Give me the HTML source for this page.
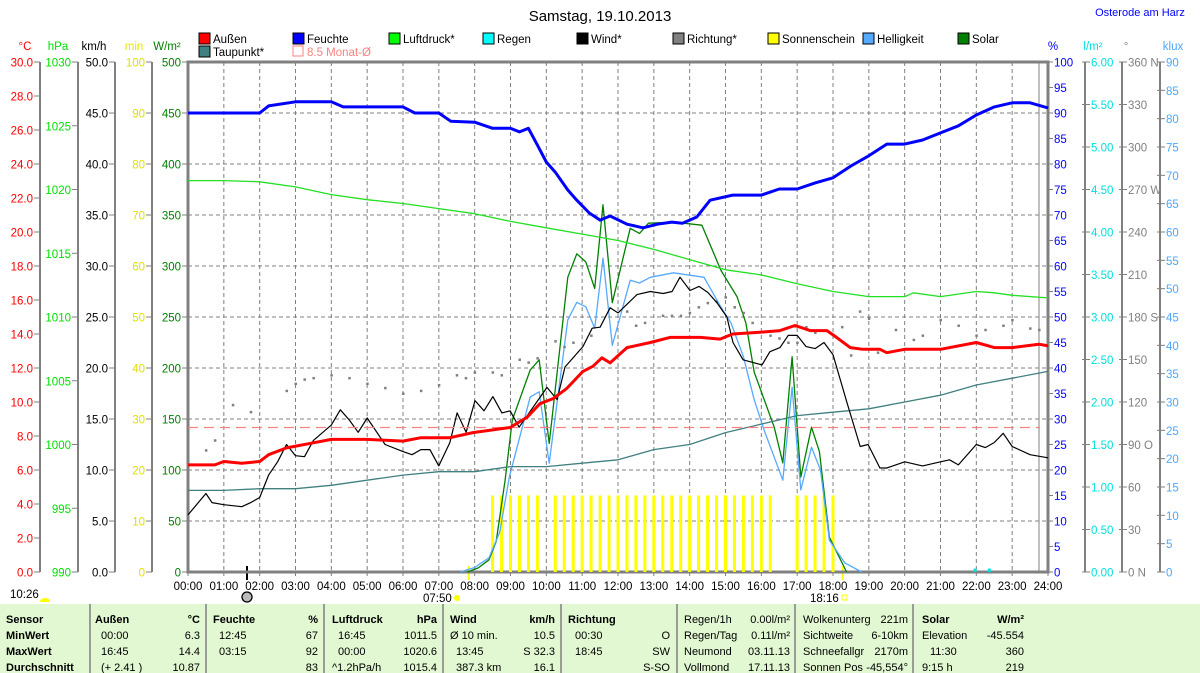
<!DOCTYPE html>
<html><head><meta charset="utf-8"><style>
html,body{margin:0;padding:0;background:#fff;}
svg{display:block;font-family:"Liberation Sans",sans-serif;}
</style></head><body>
<svg id="chart" width="1200" height="673" viewBox="0 0 1200 673" xmlns="http://www.w3.org/2000/svg">
<text x="600" y="21" font-size="15" text-anchor="middle" fill="#000">Samstag, 19.10.2013</text>
<text x="1140" y="16" font-size="11" text-anchor="middle" fill="#0000ff">Osterode am Harz</text>
<g id="axes"></g>
<g id="grid"></g>
<g id="series"></g>
<g id="legend"></g>
<g id="table"></g>
</svg>
<script>
// ---- data ----
const hourLabels=["00:00","01:00","02:00","03:00","04:00","05:00","06:00","07:00","08:00","09:00","10:00","11:00","12:00","13:00","14:00","15:00","16:00","17:00","18:00","19:00","20:00","21:00","22:00","23:00","24:00"];
const tempT=[0,0.75,1,1.5,2,2.25,2.75,3.5,4,5,6,6.5,7,7.31,7.95,8.99,9.46,9.82,10.19,10.57,11.02,11.3,11.55,11.78,12.25,12.9,13.45,14.3,14.85,15.2,15.96,16.52,16.94,17.36,17.83,18.1,18.48,18.84,19.31,19.5,20,21,22,22.5,23,23.75,24];
const tempV=[6.3,6.3,6.5,6.4,6.5,6.9,7.3,7.6,7.8,7.8,7.7,7.9,7.9,7.9,8.2,8.5,9.1,9.9,10.2,10.8,11.8,12.1,12.6,12.3,13.2,13.5,13.8,13.8,13.7,14.0,14.1,14.2,14.5,14.2,14.2,13.8,13.2,13.1,13.1,12.9,13.1,13.1,13.5,13.2,13.2,13.4,13.3];
const dewT=[0,1,2,3,4,5,6,7,8,9,10,11,12,13,14,15,16,17,18,19,20,21,22,23,24];
const dewV=[4.8,4.8,4.9,4.9,5.1,5.4,5.7,5.9,5.9,6.2,6.2,6.4,6.6,7.2,7.5,8.2,8.7,9.2,9.4,9.6,10.0,10.4,11.0,11.4,11.8];
const humT=[0,2,2.25,3,4,4.33,6,6.33,7,7.33,8,8.5,9,9.25,9.5,9.75,10,10.25,10.6,10.85,11.2,11.5,11.78,12.25,12.7,13.1,13.5,13.8,14.2,14.57,15.2,15.7,16,16.5,17,17.5,18,18.5,19,19.5,20,20.5,21,21.5,22,22.5,23,23.5,24];
const humV=[90,90,91.4,92.2,92.2,91.2,91.2,90,90,88.4,88.2,87,87,86.3,87,83.7,80.4,78.4,74.9,72.9,70.4,69,69.8,68.2,67.5,68.2,68.6,68.4,69.6,72.9,73.9,73.9,73.9,75.1,75.1,76.3,77.3,79.6,81.6,83.9,83.9,84.7,86.1,87.5,89.6,91.2,92,92,91];
const presT=[0,1,2,3,4,5,6,7,8,9,10,11,12,13,14,15,16,17,18,19,20,20.25,21,22,22.5,23,24];
const presV=[1020.7,1020.7,1020.6,1020.2,1019.6,1019.2,1018.9,1018.5,1018.1,1017.5,1017.0,1016.5,1016.0,1015.3,1014.5,1013.7,1013.3,1012.6,1012.0,1011.6,1011.6,1011.9,1011.6,1012.0,1011.9,1011.7,1011.5];
const windT=[0,0.5,0.67,1,1.5,1.75,2,2.25,2.5,2.75,3,3.25,3.5,4,4.25,4.5,4.75,5,5.5,6,6.25,6.5,6.75,7,7.31,7.51,7.76,8.01,8.26,8.51,8.76,8.99,9.24,10.02,10.3,10.52,11.02,11.28,11.5,11.78,12.0,12.53,12.9,13.26,13.51,13.73,14.01,14.26,14.51,14.76,15.04,15.21,15.49,16.02,16.24,16.52,16.75,17.0,17.25,17.5,17.75,18.0,18.39,18.76,18.98,19.31,19.5,20,20.5,21,21.25,21.5,22,22.25,22.5,22.75,23,23.5,24];
const windV=[5.6,7.7,6.8,6.6,6.4,6.8,7.3,9.5,10.8,12.5,11.4,11.3,12.9,14.4,15.9,14.9,13.7,15.1,12.5,11.8,11.5,12.0,12.0,10.4,12.7,15.6,13.7,16.8,15.8,17.2,15.6,15.8,14.2,18.1,16.9,20.1,22.1,23.9,24.0,25.9,25.4,27.2,27.5,27.3,27.5,28.9,27.6,28.0,27.4,26.4,25.0,22.5,20.8,20.3,21.6,22.0,23.2,23.2,22.1,21.9,22.5,21.3,16.6,12.3,12.5,10.2,10.2,10.8,10.4,10.8,11.0,10.5,12.5,12.2,12.7,13.6,12.3,11.5,11.2];
const dirT=[0.5,0.75,1.25,1.75,2.75,3,3.25,3.5,4,4.5,5,5.5,6,6.5,7,7.5,7.75,8,8.5,8.75,9.25,9.5,9.75,10.25,10.5,10.75,11.25,12.25,12.5,12.75,13.25,13.5,13.75,14,14.25,14.5,14.75,15,15.25,15.5,15.75,16.25,16.5,16.75,17,17.25,17.5,18.25,18.5,18.75,19,19.25,19.75,20.25,20.5,21,21.5,22,22.25,22.75,23,23.5,23.75];
const dirV=[86,93,118,113,128,133,136,137,139,137,133,130,126,128,132,139,137,141,141,139,150,148,151,163,159,162,167,184,174,176,181,181,181,183,187,190,191,194,187,183,176,167,165,162,162,173,169,173,153,184,179,155,171,164,167,178,174,167,171,174,178,172,171];
const sunT=[8.5,8.75,9,9.25,9.5,9.75,10.25,10.5,10.75,11,11.25,11.5,11.75,12,12.25,12.5,12.75,13,13.25,13.5,13.75,14,14.25,14.5,14.75,15,15.25,15.5,15.75,16,16.25,17,17.25,17.5,17.75,18];
const sunV=[15,15,15,15,15,15,15,15,15,15,15,15,15,15,15,15,15,15,15,15,15,15,15,15,15,15,15,15,15,15,15,15,15,15,15,15];
const solarT=[7.8,8.1,8.4,8.6,8.85,9.05,9.55,9.8,10.08,10.6,10.85,11.1,11.35,11.58,11.84,12.34,12.6,12.85,13.55,14.34,14.87,15.32,15.57,15.8,16.36,16.6,16.86,17.1,17.4,17.62,17.9,18.38];
const solarV=[0,4,12,30,90,149,198,208,126,289,312,304,278,360,264,337,332,342,343,340,296,270,244,196,142,107,211,93,142,118,34,0];
const luxT=[7.6,8.0,8.4,8.7,8.97,9.55,9.8,10.08,10.6,10.85,11.1,11.35,11.58,11.84,12.34,12.6,12.9,13.55,14.4,14.87,15.15,15.5,15.8,16.08,16.6,16.86,17.1,17.4,17.65,17.9,18.33,18.8];
const luxV=[0,0.8,2.5,7,16.8,30.9,31.8,19.2,44.5,47.6,46.8,43,55.4,40,51.5,51,52,52.8,52,46.8,44,38,30.4,25,16.2,32.6,14.5,22,18,5.6,1.6,0];
const rainT=[21.95,22.35];
const rainV=[0.04,0.04];
const monthAvg=[8.5];

// ---- axis functions ----
const X0=188,X1=1048,YT=62,YB=572;
const xT=t=>X0+t*(X1-X0)/24;
const yW=v=>YB-v*(YB-YT)/500;
const yC=v=>YB-v*(YB-YT)/30;
const yP=v=>YB-(v-990)*(YB-YT)/40;
const yK=v=>YB-v*(YB-YT)/50;
const yM=v=>YB-v*(YB-YT)/100;
const yH=v=>YB-v*(YB-YT)/100;
const yL=v=>YB-v*(YB-YT)/6;
const yD=v=>YB-v*(YB-YT)/360;
const yX=v=>YB-v*(YB-YT)/90;

const NS="http://www.w3.org/2000/svg";
function mk(tag,attrs,parent,txt){const e=document.createElementNS(NS,tag);for(const k in attrs)e.setAttribute(k,attrs[k]);if(txt!==undefined)e.textContent=txt;parent.appendChild(e);return e;}
const axes=document.getElementById('axes'),grid=document.getElementById('grid'),ser=document.getElementById('series'),leg=document.getElementById('legend'),tbl=document.getElementById('table');

// grid
for(let h=1;h<24;h++){const l=mk('line',{x1:xT(h),x2:xT(h),y1:YT,y2:YB,stroke:'#808080','stroke-dasharray':'4,3','stroke-width':1},grid);

}
for(let v=50;v<500;v+=50){const l=mk('line',{x1:X0,x2:X1,y1:yW(v),y2:yW(v),stroke:'#808080','stroke-dasharray':'4,3','stroke-width':1},grid);

}
const inner=mk('line',{x1:1039,x2:1039,y1:YT,y2:YB,stroke:'#808080','stroke-width':1},grid);


const frame=mk('rect',{x:X0,y:YT,width:X1-X0,height:YB-YT,fill:'none',stroke:'#808080','stroke-width':3},grid);



// axes
function axis(name,lineX,header,headerX,color,ticks,fmt,scale,side,labelColor){
  const g=mk('g',{},axes);
  
  
  if(lineX!==X0&&lineX!==X1){mk('line',{x1:lineX,x2:lineX,y1:YT,y2:YB,stroke:'#808080','stroke-width':2},g);}
  const h=mk('text',{x:headerX,y:50,'font-size':11.5,fill:color,'text-anchor':'middle'},g,header);
  
  
  ticks.forEach(v=>{const y=scale(v);
    if(side==='left'){mk('line',{x1:lineX-6,x2:lineX,y1:y,y2:y,stroke:'#808080'},g);
      const t=mk('text',{x:lineX-7,y:y+4.5,'font-size':11.5,fill:labelColor||color,'text-anchor':'end'},g,fmt(v));
      
      }
    else{mk('line',{x1:lineX-(lineX===X1?0:3),x2:lineX+5,y1:y,y2:y,stroke:'#808080'},g);
      const t=mk('text',{x:lineX+6,y:y+4.5,'font-size':11.5,fill:labelColor||color,'text-anchor':'start'},g,fmt(v));
      
      }
  });
}
const rng=(a,b,s)=>{const r=[];for(let v=a;v<=b+1e-9;v+=s)r.push(+v.toFixed(3));return r;};
axis('celsius-axis',40,'°C',25,'#ff0000',rng(0,30,2),v=>v.toFixed(1),yC,'left');
axis('hpa-axis',78,'hPa',58,'#00e000',rng(990,1030,5),v=>String(v),yP,'left');
axis('kmh-axis',115,'km/h',94,'#000',rng(0,50,5),v=>v.toFixed(1),yK,'left');
axis('min-axis',152,'min',134,'#e8e800',rng(0,100,10),v=>String(v),yM,'left','#e0e000');
axis('wm2-axis',188,'W/m²',167,'#008000',rng(0,500,50),v=>String(v),yW,'left');
axis('percent-axis',1048,'%',1053,'#0000ff',rng(0,100,5),v=>String(v),yH,'right');
axis('rain-axis',1085,'l/m²',1093,'#00e0e0',rng(0,6,0.5),v=>v.toFixed(2),yL,'right');
const dirName={0:' N',90:' O',180:' S',270:' W',360:' N'};
axis('direction-axis',1122,'°',1126,'#808080',rng(0,360,30),v=>String(v)+(dirName[v]||''),yD,'right');
axis('klux-axis',1160,'klux',1173,'#4da6ff',rng(0,90,5),v=>String(v),yX,'right');

// time labels
hourLabels.forEach((s,i)=>{const t=mk('text',{x:xT(i),y:590,'font-size':11.5,'text-anchor':'middle',fill:'#000'},axes,s);


mk('line',{x1:xT(i),x2:xT(i),y1:YB,y2:YB+4,stroke:'#808080'},axes);});

// series helpers
function path(ts,vs,sc,color,w,name,dash){let d='';ts.forEach((t,i)=>{d+=(i?'L':'M')+xT(t).toFixed(1)+','+sc(vs[i]).toFixed(1);});
  const p=mk('path',{d:d,fill:'none',stroke:color,'stroke-width':w,'stroke-linejoin':'round'},ser);
  if(dash)p.setAttribute('stroke-dasharray',dash);
  
  }

// rain
rainT.forEach((t,i)=>{const r=mk('rect',{x:xT(t)-1,y:yL(rainV[i]),width:3,height:YB-yL(rainV[i]),fill:'#00e0e0'},ser);

});
// sunshine
sunT.forEach((t,i)=>{const r=mk('rect',{x:xT(t)-1.5,y:yM(sunV[i]),width:3,height:YB-yM(sunV[i]),fill:'#ffff00'},ser);

});
path(solarT,solarV,yW,'#008000',1.3,'solar-line');
path(luxT,luxV,yX,'#55aaff',1.3,'brightness-line');
path(dewT,dewV,yC,'#408080',1.3,'dewpoint-line');
path(presT,presV,yP,'#22e022',1.3,'pressure-line');
dirT.forEach((t,i)=>{const r=mk('rect',{x:xT(t)-1,y:yD(dirV[i])-1,width:2.5,height:2.5,fill:'#808080'},ser);

});
path(windT,windV,yK,'#000',1.2,'wind-line');
const ma=mk('line',{x1:X0,x2:X1-8,y1:yC(monthAvg[0]),y2:yC(monthAvg[0]),stroke:'#ff8080','stroke-dasharray':'10,6','stroke-width':1.2},ser);


path(tempT,tempV,yC,'#ff0000',3,'temperature-line');
path(humT,humV,yH,'#0000ff',3,'humidity-line');

// sun/moon markers
const mk1=mk('line',{x1:247,x2:247,y1:566,y2:580,stroke:'#000','stroke-width':2},axes);


mk('circle',{cx:247,cy:597,r:5,fill:'#bbb',stroke:'#000','stroke-width':1.3},axes);
mk('line',{x1:xT(7.833),x2:xT(7.833),y1:566,y2:580,stroke:'#ffff00','stroke-width':2},axes);
mk('line',{x1:xT(18.27),x2:xT(18.27),y1:566,y2:580,stroke:'#ffff00','stroke-width':2},axes);
[['10:26',10,598],['07:50',423,602],['18:16',810,602]].forEach(a=>{const t=mk('text',{x:a[1],y:a[2],'font-size':11.5,fill:'#000'},axes,a[0]);

});
mk('path',{d:'M40,602 a5,4 0 0 1 10,0 z',fill:'#ffff00'},axes);
mk('circle',{cx:457,cy:598,r:3,fill:'#ffff00'},axes);
mk('rect',{x:842,y:595,width:5,height:5,fill:'none',stroke:'#ffff00'},axes);

// legend
const legItems=[['Außen','#ff0000',199,38],['Feuchte','#0000ff',293,38],['Luftdruck*','#00ff00',389,38],['Regen','#00ffff',483,38],['Wind*','#000000',577,38],['Richtung*','#808080',673,38],['Sonnenschein','#ffff00',768,38],['Helligkeit','#55aaff',863,38],['Solar','#008000',958,38],['Taupunkt*','#408080',199,51]];
legItems.forEach(a=>{const g=mk('g',{},leg);


mk('rect',{x:a[2],y:a[3]-5,width:11,height:11,fill:a[1],stroke:'#000','stroke-width':1},g);
mk('text',{x:a[2]+14,y:a[3]+5,'font-size':11.5,fill:'#000'},g,a[0]);});
const lg2=mk('g',{},leg);


mk('rect',{x:293,y:46,width:10,height:10,fill:'none',stroke:'#ff8080'},lg2);
mk('text',{x:307,y:56,'font-size':11.5,fill:'#ff8080'},lg2,'8.5 Monat-Ø');

// table
const bg=mk('rect',{x:0,y:604,width:1200,height:69,fill:'#e2f8d2'},tbl);


[90,206,324,443,561,677,795,913].forEach(x=>mk('line',{x1:x,x2:x,y1:604,y2:673,stroke:'#808080','stroke-width':1.5},tbl));
const rowsY=[623,639,655,671];
const cells=[
[6,0,'Sensor','b','s'],[6,1,'MinWert','b','s'],[6,2,'MaxWert','b','s'],[6,3,'Durchschnitt','b','s'],
[95,0,'Außen','b','s'],[200,0,'°C','b','e'],[101,1,'00:00','','s'],[200,1,'6.3','','e'],[101,2,'16:45','','s'],[200,2,'14.4','','e'],[101,3,'(+ 2.41 )','','s'],[200,3,'10.87','','e'],
[213,0,'Feuchte','b','s'],[318,0,'%','b','e'],[219,1,'12:45','','s'],[318,1,'67','','e'],[219,2,'03:15','','s'],[318,2,'92','','e'],[318,3,'83','','e'],
[332,0,'Luftdruck','b','s'],[437,0,'hPa','b','e'],[338,1,'16:45','','s'],[437,1,'1011.5','','e'],[338,2,'00:00','','s'],[437,2,'1020.6','','e'],[332,3,'^1.2hPa/h','','s'],[437,3,'1015.4','','e'],
[450,0,'Wind','b','s'],[555,0,'km/h','b','e'],[450,1,'Ø 10 min.','','s'],[555,1,'10.5','','e'],[456,2,'13:45','','s'],[555,2,'S 32.3','','e'],[456,3,'387.3 km','','s'],[555,3,'16.1','','e'],
[568,0,'Richtung','b','s'],[670,1,'O','','e'],[575,1,'00:30','','s'],[575,2,'18:45','','s'],[670,2,'SW','','e'],[670,3,'S-SO','','e'],
[684,0,'Regen/1h','','s'],[790,0,'0.00l/m²','','e'],[684,1,'Regen/Tag','','s'],[790,1,'0.11l/m²','','e'],[684,2,'Neumond','','s'],[790,2,'03.11.13','','e'],[684,3,'Vollmond','','s'],[790,3,'17.11.13','','e'],
[803,0,'Wolkenunterg','','s'],[908,0,'221m','','e'],[803,1,'Sichtweite','','s'],[908,1,'6-10km','','e'],[803,2,'Schneefallgr','','s'],[908,2,'2170m','','e'],[803,3,'Sonnen Pos','','s'],[908,3,'-45,554°','','e'],
[922,0,'Solar','b','s'],[1024,0,'W/m²','b','e'],[922,1,'Elevation','','s'],[1024,1,'-45.554','','e'],[930,2,'11:30','','s'],[1024,2,'360','','e'],[922,3,'9:15 h','','s'],[1024,3,'219','','e']];
cells.forEach(c=>{const t=mk('text',{x:c[0],y:rowsY[c[1]],'font-size':11,fill:'#000','font-weight':c[3]==='b'?'bold':'normal','text-anchor':c[4]==='e'?'end':'start'},tbl,c[2]);

});
</script>
</body></html>
